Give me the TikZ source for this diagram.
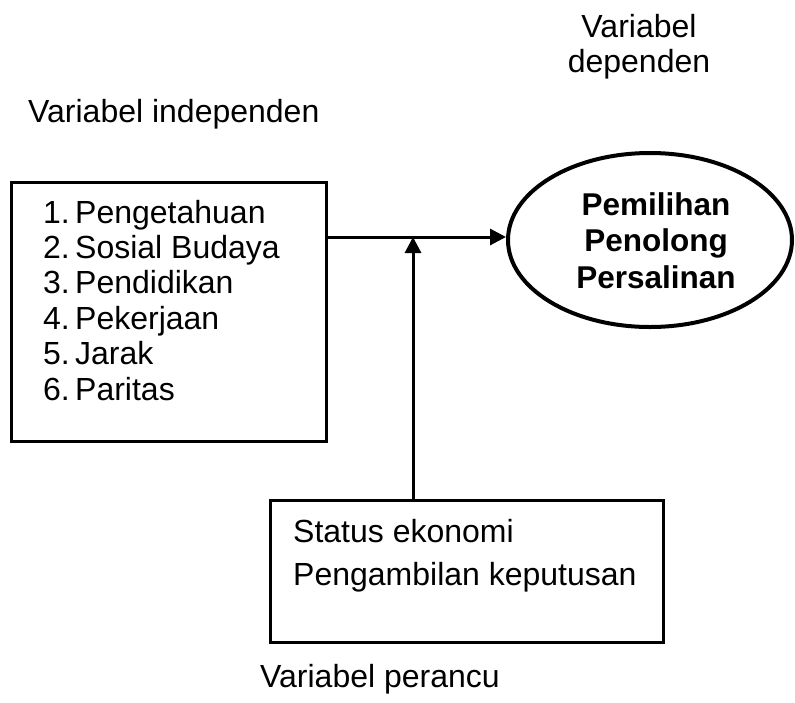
\documentclass[tikz,border=0pt]{standalone}
\usepackage{fontspec}
\setmainfont{Liberation Sans}
\usetikzlibrary{arrows.meta,shapes.geometric}
\tikzset{
  boxshape/.style={draw=black, line width=3pt, rectangle, inner sep=0pt},
  ovalshape/.style={draw=black, line width=4pt, ellipse, inner sep=0pt},
  txt/.style={inner sep=0pt, font=\fontsize{32}{36}\selectfont},
  btxt/.style={inner sep=0pt, font=\fontsize{31.5}{36}\selectfont\bfseries},
  arr/.style={line width=3pt, -{Triangle[length=16pt,width=16pt]}},
}
\begin{document}
\begin{tikzpicture}[x=1pt,y=-1pt]
\useasboundingbox (0,0) rectangle (795,702);
% shapes
\node[boxshape, minimum width=315pt, minimum height=259pt] (indep) at (168.5,311.5) {};
\node[ovalshape, minimum width=284pt, minimum height=174pt] (ell) at (650,240) {};
\node[boxshape, minimum width=393pt, minimum height=142pt] (conf) at (467,571.5) {};
% headings
\node[txt, anchor=base] (hdep1) at (639,37) {Variabel};
\node[txt, anchor=base] (hdep2) at (639,72) {dependen};
\node[txt, anchor=base west] (hind) at (28,122) {Variabel independen};
\node[txt, anchor=base west] (hper) at (260,687) {Variabel perancu};
% list
\node[txt, anchor=base west] (l1) at (43,223) {1.\,Pengetahuan};
\node[txt, anchor=base west] (l2) at (43,258.4) {2.\,Sosial Budaya};
\node[txt, anchor=base west] (l3) at (43,293.8) {3.\,Pendidikan};
\node[txt, anchor=base west] (l4) at (43,329.2) {4.\,Pekerjaan};
\node[txt, anchor=base west] (l5) at (43,364.6) {5.\,Jarak};
\node[txt, anchor=base west] (l6) at (43,400) {6.\,Paritas};
% ellipse text
\node[btxt, anchor=base] (e1) at (656,215) {Pemilihan};
\node[btxt, anchor=base] (e2) at (656,251) {Penolong};
\node[btxt, anchor=base] (e3) at (656,288) {Persalinan};
% confounder text
\node[txt, anchor=base west] (c1) at (293,542) {Status ekonomi};
\node[txt, anchor=base west] (c2) at (293,585) {Pengambilan keputusan};
% connectors
\coordinate (j) at (413,237);
\draw[arr] (indep.east |- j) -- (ell.west |- j);
\draw[arr] (conf.north -| j) -- (j);
\end{tikzpicture}
\end{document}
